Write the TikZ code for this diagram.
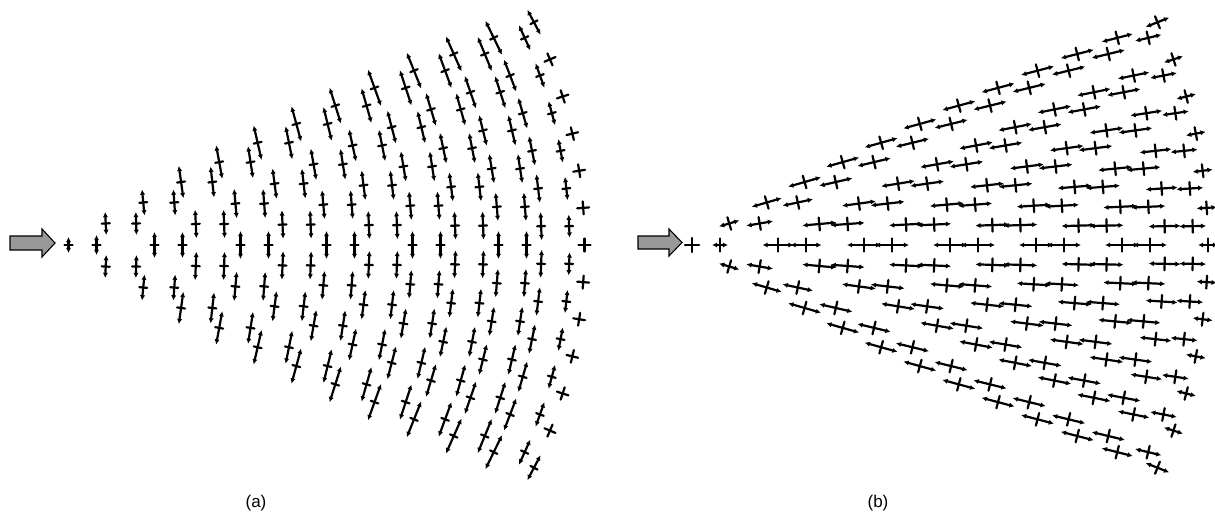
\documentclass[tikz,border=0pt]{standalone}
\usepackage{fontspec}
\setmainfont{Liberation Sans}
\usetikzlibrary{arrows.meta}
\definecolor{arrowgray}{gray}{0.6}
\tikzset{
  glyph/.style={line width=2.2pt, line cap=round},
  dbl/.style={glyph, {Latex[length=5.2pt,width=5.2pt]}-{Latex[length=5.2pt,width=5.2pt]}},
  bigarrow/.style={draw=black, line width=1.1pt, fill=arrowgray, line join=miter},
  caption/.style={font=\fontsize{17}{20}\selectfont, inner sep=0pt}
}
\begin{document}
\begin{tikzpicture}[x=1pt,y=1pt]
\useasboundingbox (0,0) rectangle (1215,515);

% source arrows
\draw[bigarrow] (10,265) -- (42,265) -- (42,258) -- (55,272) -- (42,286) -- (42,279) -- (10,279) -- cycle;
\draw[bigarrow] (638,266) -- (669,266) -- (669,259) -- (682,272.5) -- (669,286) -- (669,279) -- (638,279) -- cycle;

% panel (a): tangential displacement glyphs
\foreach \kk in {0,...,12}{
  \pgfmathsetmacro\dv{21.8-0.27*\kk}
  \foreach \jj in {0,...,\kk}{
    \pgfmathsetmacro\jv{2*\jj-\kk}
    \pgfmathsetmacro\yy{\jv*\dv}
    \foreach \av in {0,1}{
      \pgfmathtruncatemacro\skp{(\kk==12)*(\av==1)}
      \ifnum\skp=0
        \pgfmathsetmacro\rv{43*\kk+28*\av}
        \pgfmathsetmacro\xx{10*sqrt(max((\rv/10)^2-(\yy/10)^2,0))}
        \pgfmathsetmacro\ang{atan2(\yy,\xx+0.001)}
        \pgfmathsetmacro\tilt{\ang*min(\kk/11,1.15)}
        \pgfmathsetmacro\len{(\kk==0) ? ((\av==0) ? 16 : 20) : ((\kk==1) ? 23 : ((\kk==2) ? 26 : ((\kk==12) ? ((abs(\jv)==12) ? 28 : 0) : (((\kk==11)&&(\av==1)) ? (23+5*(\ang/26)^2) : (28+min(\kk,8)*1.2*(\ang/26)^2)))))}
        \begin{scope}[shift={(68.5+\xx,270+\yy)}, rotate=\tilt]
          \ifdim \len pt>0.5pt
            \draw[dbl] (0,-\len/2) -- (0,\len/2);
            \draw[glyph] (-4,0) -- (4,0);
          \else
            \draw[glyph] (-6,0) -- (6,0) (0,-6.5) -- (0,6.5);
          \fi
        \end{scope}
      \fi
    }
  }
}

% panel (b): radial displacement glyphs
\foreach \kk in {0,...,12}{
  \pgfmathsetmacro\dv{21.8-0.27*\kk}
  \foreach \jj in {0,...,\kk}{
    \pgfmathsetmacro\jv{2*\jj-\kk}
    \pgfmathsetmacro\yy{\jv*\dv}
    \foreach \av in {0,1}{
      \pgfmathtruncatemacro\skp{(\kk==12)*(\av==1)}
      \ifnum\skp=0
        \pgfmathsetmacro\rv{43*\kk+28*\av}
        \pgfmathsetmacro\xx{10*sqrt(max((\rv/10)^2-(\yy/10)^2,0))}
        \pgfmathsetmacro\ang{atan2(\yy,\xx+0.001)}
        \pgfmathsetmacro\tilt{\ang*((\kk==12) ? 0.85 : 0.55)}
        \pgfmathsetmacro\len{(\kk==0) ? ((\av==0) ? 0 : 16) : ((\kk==1) ? ((\av==0) ? 21 : 27) : ((\kk==2) ? 31 : ((\kk==12) ? ((abs(\jv)==12) ? 25 : 20) : ((\kk==11) ? ((\av==0) ? 32 : 27) : 34))))}
        \begin{scope}[shift={(692+\xx,270+\yy)}, rotate=\tilt]
          \ifdim \len pt>0.5pt
            \draw[dbl] (-\len/2,0) -- (\len/2,0);
            \draw[glyph] (0,-6.5) -- (0,6.5);
          \else
            \draw[glyph] (-7,0) -- (7,0) (0,-7) -- (0,7);
          \fi
        \end{scope}
      \fi
    }
  }
}

\node[caption] (capa) at (256,12) {(a)};
\node[caption] (capb) at (878,12) {(b)};
\end{tikzpicture}
\end{document}
